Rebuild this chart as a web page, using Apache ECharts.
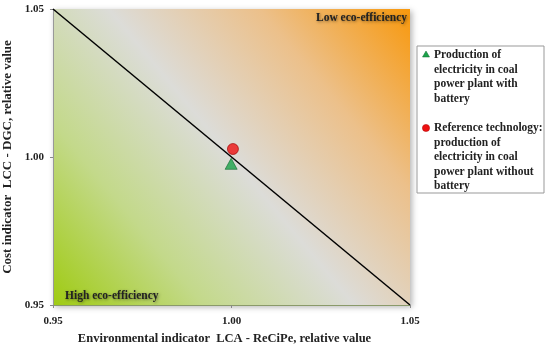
<!DOCTYPE html>
<html><head><meta charset="utf-8">
<script src="https://cdn.jsdelivr.net/npm/echarts@6/dist/echarts.min.js"></script>
<style>html,body{margin:0;padding:0;background:#fff}#c{width:550px;height:351px}</style>
</head><body><div id="c"></div>
<script>
var xTicks = [0.95, 1.00, 1.05];
var yTicks = [0.95, 1.00, 1.05];
var withBattery = [[0.9999, 0.9977]];
var reference = [[1.0004, 1.0027]];
var diagonal = [[0.95, 1.05], [1.05, 0.95]];
var seriesNames = ['Production of electricity in coal power plant with battery',
  'Reference technology: production of electricity in coal power plant without battery'];
var legendLines = [
  ['Production of', 'electricity in coal', 'power plant with', 'battery'],
  ['Reference technology:', 'production of', 'electricity in coal', 'power plant without', 'battery']
];
var FONT = '"Liberation Serif", "DejaVu Serif", serif';
var chart = echarts.init(document.getElementById('c'));
var gl = 53, gr = 140, gt = 9, gb = 46;
var graphics = [];
// legend box
var lx = 417, ly = 46, lw = 127, lh = 147;
graphics.push({type:'rect', shape:{x:lx,y:ly,width:lw,height:lh}, style:{fill:'#fff', stroke:'#999', lineWidth:1}});
graphics.push({type:'polygon', shape:{points:[[lx+9,ly+5],[lx+5.5,ly+11],[lx+12.5,ly+11]]}, style:{fill:'#1aa34a', stroke:'#116a30', lineWidth:0.5}});
graphics.push({type:'text', x:lx+17, y:ly+2, style:{text:legendLines[0].join('\n'), font:'bold 11.5px ' + FONT, fill:'#222', lineHeight:14.5}});
graphics.push({type:'circle', shape:{cx:lx+9,cy:ly+82,r:3.6}, style:{fill:'#ee1111', stroke:'#aa0000', lineWidth:0.5}});
graphics.push({type:'text', x:lx+17, y:ly+75, style:{text:legendLines[1].join('\n'), font:'bold 11.5px ' + FONT, fill:'#222', lineHeight:14.5}});
// corner labels
graphics.push({type:'text', right:143, top:12, style:{text:'Low eco-efficiency', font:'bold 11.5px ' + FONT, fill:'#222', textShadowColor:'rgba(0,0,0,0.45)', textShadowBlur:3, textShadowOffsetX:1, textShadowOffsetY:1}});
graphics.push({type:'text', left:65, top:290, style:{text:'High eco-efficiency', font:'bold 11.5px ' + FONT, fill:'#222', textShadowColor:'rgba(0,0,0,0.45)', textShadowBlur:3, textShadowOffsetX:1, textShadowOffsetY:1}});

chart.setOption({
  animation:false,
  grid:{left:gl, right:gr, top:gt, bottom:gb, show:true, borderWidth:0, outerBoundsMode:'none', containLabel:false,
    backgroundColor:new echarts.graphic.LinearGradient(0,1,1,0,[
      {offset:0, color:'#9fcb12'},
      {offset:0.25, color:'#c3d98a'},
      {offset:0.5, color:'#dcdcd8'},
      {offset:0.75, color:'#ecc08a'},
      {offset:1, color:'#f8980c'}
    ]),
    shadowColor:'rgba(0,0,0,0.3)', shadowBlur:6, shadowOffsetX:2, shadowOffsetY:2},
  xAxis:{type:'value', min:xTicks[0], max:xTicks[2], interval:0.05,
    name:'Environmental indicator  LCA - ReCiPe, relative value', nameLocation:'middle', nameGap:25,
    nameTextStyle:{fontFamily:FONT, fontWeight:'bold', fontSize:12.5, color:'#222', padding:[0,14,0,0]},
    axisLine:{lineStyle:{color:'#8a9a6a'}}, axisTick:{show:true, length:3, lineStyle:{color:'#888'}},
    axisLabel:{formatter:function(v){return v.toFixed(2);}, fontFamily:FONT, fontWeight:'bold', fontSize:11, color:'#222', margin:11},
    splitLine:{show:false}},
  yAxis:{type:'value', min:yTicks[0], max:yTicks[2], interval:0.05,
    name:'Cost indicator  LCC - DGC, relative value', nameLocation:'middle', nameGap:36,
    nameTextStyle:{fontFamily:FONT, fontWeight:'bold', fontSize:13, color:'#222'},
    axisLine:{show:true, lineStyle:{color:'#999'}}, axisTick:{show:true, length:3, lineStyle:{color:'#888'}},
    axisLabel:{formatter:function(v){return v.toFixed(2);}, fontFamily:FONT, fontWeight:'bold', fontSize:11, color:'#222', margin:9},
    splitLine:{show:false}},
  series:[
    {type:'line', data:diagonal, symbol:'none', lineStyle:{color:'#000', width:1.5}, silent:true},
    {name:seriesNames[0], type:'scatter', data:withBattery, symbol:'triangle', symbolSize:[12,11],
      itemStyle:{color:'#1aa34a', borderColor:'#116a30', borderWidth:0.8}},
    {name:seriesNames[1], type:'scatter', data:reference, symbol:'circle', symbolSize:11,
      itemStyle:{color:'#ee1111', borderColor:'#990000', borderWidth:0.8}}
  ],
  graphic:graphics
});
</script></body></html>
